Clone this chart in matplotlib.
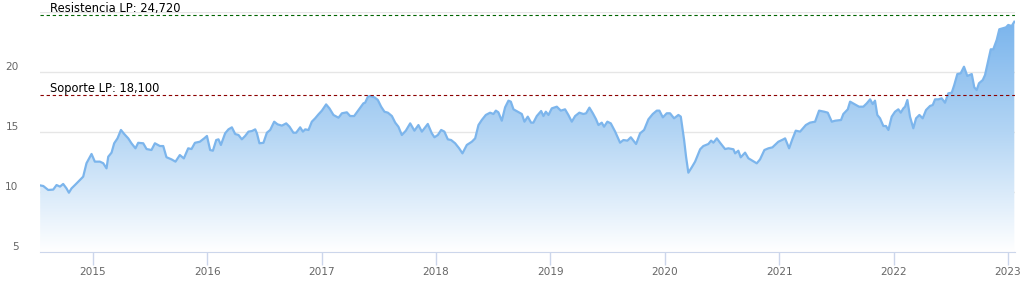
import matplotlib
matplotlib.use("Agg")
import matplotlib.pyplot as plt
import numpy as np
from matplotlib.colors import LinearSegmentedColormap
from matplotlib.patches import Polygon
from matplotlib.transforms import ScaledTranslation

# fechas (año decimal) y cotizacion
fechas = [
    2014.539, 2014.566, 2014.609, 2014.653, 2014.682, 2014.712, 2014.740, 2014.769, 2014.790, 2014.813,
    2014.843, 2014.886, 2014.915, 2014.944, 2014.988, 2015.017, 2015.061, 2015.090, 2015.119, 2015.134,
    2015.163, 2015.186, 2015.215, 2015.245, 2015.274, 2015.309, 2015.337, 2015.372, 2015.396, 2015.440,
    2015.469, 2015.512, 2015.542, 2015.586, 2015.615, 2015.643, 2015.687, 2015.722, 2015.760, 2015.795,
    2015.833, 2015.862, 2015.892, 2015.935, 2015.973, 2015.997, 2016.025, 2016.049, 2016.078, 2016.098,
    2016.119, 2016.156, 2016.185, 2016.215, 2016.244, 2016.273, 2016.302, 2016.331, 2016.360, 2016.390,
    2016.419, 2016.434, 2016.456, 2016.491, 2016.521, 2016.550, 2016.585, 2016.614, 2016.652, 2016.690,
    2016.719, 2016.753, 2016.777, 2016.812, 2016.836, 2016.856, 2016.885, 2016.914, 2016.943, 2016.972,
    2017.002, 2017.039, 2017.068, 2017.103, 2017.147, 2017.177, 2017.220, 2017.249, 2017.284, 2017.322,
    2017.365, 2017.380, 2017.404, 2017.424, 2017.462, 2017.491, 2017.520, 2017.549, 2017.579, 2017.614,
    2017.643, 2017.671, 2017.701, 2017.736, 2017.774, 2017.811, 2017.846, 2017.876, 2017.928, 2017.963,
    2017.986, 2018.016, 2018.045, 2018.073, 2018.103, 2018.132, 2018.167, 2018.202, 2018.231, 2018.269,
    2018.313, 2018.342, 2018.371, 2018.400, 2018.435, 2018.473, 2018.502, 2018.523, 2018.545, 2018.575,
    2018.604, 2018.633, 2018.654, 2018.677, 2018.715, 2018.750, 2018.773, 2018.802, 2018.831, 2018.851,
    2018.881, 2018.919, 2018.939, 2018.960, 2018.983, 2019.012, 2019.056, 2019.091, 2019.128, 2019.157,
    2019.187, 2019.216, 2019.253, 2019.288, 2019.312, 2019.341, 2019.371, 2019.399, 2019.420, 2019.449,
    2019.469, 2019.498, 2019.528, 2019.566, 2019.609, 2019.638, 2019.673, 2019.703, 2019.749, 2019.784,
    2019.819, 2019.857, 2019.895, 2019.930, 2019.953, 2019.983, 2020.017, 2020.046, 2020.081, 2020.119,
    2020.140, 2020.169, 2020.186, 2020.206, 2020.236, 2020.265, 2020.309, 2020.337, 2020.381, 2020.405,
    2020.425, 2020.455, 2020.483, 2020.527, 2020.556, 2020.600, 2020.615, 2020.643, 2020.664, 2020.702,
    2020.731, 2020.766, 2020.804, 2020.833, 2020.871, 2020.906, 2020.941, 2020.993, 2021.037, 2021.052,
    2021.087, 2021.115, 2021.145, 2021.183, 2021.233, 2021.270, 2021.314, 2021.349, 2021.395, 2021.425,
    2021.460, 2021.489, 2021.541, 2021.561, 2021.600, 2021.620, 2021.657, 2021.698, 2021.736, 2021.766,
    2021.795, 2021.818, 2021.838, 2021.858, 2021.882, 2021.911, 2021.934, 2021.955, 2021.984, 2022.013,
    2022.042, 2022.063, 2022.086, 2022.101, 2022.121, 2022.144, 2022.173, 2022.197, 2022.226, 2022.255,
    2022.284, 2022.319, 2022.343, 2022.363, 2022.392, 2022.421, 2022.450, 2022.479, 2022.509, 2022.531,
    2022.558, 2022.587, 2022.616, 2022.645, 2022.684, 2022.706, 2022.727, 2022.747, 2022.780, 2022.800,
    2022.829, 2022.850, 2022.872, 2022.902, 2022.925, 2022.955, 2022.983, 2023.003, 2023.033, 2023.056,
]
precios = [
    10.55, 10.50, 10.17, 10.20, 10.58, 10.45, 10.67, 10.30, 9.94, 10.30,
    10.58, 11.00, 11.28, 12.40, 13.17, 12.53, 12.53, 12.40, 11.97, 12.94,
    13.28, 14.06, 14.47, 15.17, 14.83, 14.47, 14.06, 13.64, 14.10, 14.06,
    13.58, 13.50, 14.06, 13.83, 13.83, 12.90, 12.72, 12.53, 13.08, 12.80,
    13.64, 13.58, 14.10, 14.19, 14.47, 14.67, 13.50, 13.44, 14.33, 14.39,
    13.92, 14.89, 15.22, 15.39, 14.83, 14.75, 14.39, 14.67, 15.03, 15.08,
    15.22, 14.89, 14.06, 14.10, 14.94, 15.17, 15.86, 15.64, 15.53, 15.72,
    15.44, 14.94, 14.94, 15.39, 15.03, 15.22, 15.17, 15.86, 16.14, 16.47,
    16.78, 17.30, 16.97, 16.42, 16.19, 16.56, 16.64, 16.33, 16.33, 16.83,
    17.39, 17.44, 17.94, 18.00, 17.89, 17.67, 17.11, 16.69, 16.61, 16.33,
    15.78, 15.44, 14.75, 15.11, 15.72, 15.11, 15.58, 15.03, 15.67, 14.89,
    14.56, 14.75, 15.17, 15.03, 14.39, 14.33, 14.06, 13.64, 13.22, 13.92,
    14.19, 14.47, 15.58, 16.00, 16.42, 16.61, 16.50, 16.78, 16.64, 15.94,
    17.06, 17.61, 17.53, 16.89, 16.69, 16.50, 15.86, 16.28, 15.78, 15.78,
    16.33, 16.75, 16.33, 16.69, 16.42, 16.97, 17.11, 16.78, 16.89, 16.42,
    15.86, 16.33, 16.61, 16.50, 16.56, 17.03, 16.56, 16.06, 15.58, 15.78,
    15.44, 15.86, 15.72, 15.03, 14.11, 14.33, 14.28, 14.56, 14.00, 14.89,
    15.17, 16.06, 16.50, 16.78, 16.78, 16.22, 16.56, 16.56, 16.14, 16.42,
    16.28, 14.33, 12.94, 11.61, 12.06, 12.53, 13.56, 13.83, 14.00, 14.28,
    14.11, 14.47, 14.11, 13.58, 13.64, 13.56, 13.22, 13.44, 12.89, 13.28,
    12.81, 12.61, 12.39, 12.72, 13.50, 13.64, 13.72, 14.19, 14.39, 14.47,
    13.64, 14.39, 15.11, 15.03, 15.58, 15.78, 15.86, 16.78, 16.69, 16.61,
    15.86, 15.94, 16.00, 16.50, 16.89, 17.53, 17.33, 17.11, 17.11, 17.39,
    17.72, 17.33, 17.61, 16.42, 16.14, 15.50, 15.50, 15.17, 16.28, 16.69,
    16.89, 16.61, 16.97, 17.11, 17.67, 16.28, 15.31, 16.14, 16.42, 16.14,
    16.83, 17.17, 17.25, 17.72, 17.72, 17.81, 17.44, 18.22, 18.28, 18.92,
    19.83, 19.89, 20.44, 19.67, 19.83, 18.72, 18.50, 19.06, 19.33, 19.75,
    21.00, 21.89, 21.89, 22.67, 23.56, 23.64, 23.72, 23.92, 23.83, 24.19,
]

resistencia = 24.72
soporte = 18.10
anios = list(range(2015, 2024))
y_ticks = [5, 10, 15, 20, 25]
y_labels = ["5", "10", "15", "20", ""]

W, H = 1021, 294
fig = plt.figure(figsize=(W / 100, H / 100), dpi=100)
ax = fig.add_axes([39.5 / W, 1 - 252 / H, (1015 - 39.5) / W, 240 / H])

x0, x1 = 2014.533, 2023.062
ax.set_xlim(x0, x1)
ax.set_ylim(5, 25)

# relleno degradado bajo la curva
cmap = LinearSegmentedColormap.from_list("azul", ["#ffffff", "#b3d5f4", "#76b2ec"])
grad = np.linspace(0, 1, 256).reshape(-1, 1)
im = ax.imshow(grad, extent=[x0, x1, 5, 25], origin="lower", aspect="auto",
               cmap=cmap, zorder=1)
verts = [(fechas[0], 5)] + list(zip(fechas, precios)) + [(fechas[-1], 5)]
poly = Polygon(verts, closed=True, facecolor="none", edgecolor="none")
ax.add_patch(poly)
im.set_clip_path(poly)

ax.plot(fechas, precios, color="#7cb5ec", lw=1.6, zorder=3, solid_joinstyle="round")

# grid y ejes estilo highcharts
ax.set_yticks(y_ticks)
ax.set_yticklabels(y_labels)
ax.grid(axis="y", color="#e6e6e6", lw=1, zorder=0)
ax.set_axisbelow(True)
ax.set_xticks(anios)
ax.set_xticklabels([str(a) for a in anios])
for s in ["top", "right", "left"]:
    ax.spines[s].set_visible(False)
ax.spines["bottom"].set_color("#ccd6eb")
ax.spines["bottom"].set_zorder(4)
ax.tick_params(axis="x", direction="out", length=9, width=1, color="#ccd6eb",
               labelcolor="#666666", labelsize=7.6, pad=1.5)
ax.tick_params(axis="y", length=0, labelcolor="#666666", labelsize=7.6, pad=15)
off = ScaledTranslation(0, 0.055, fig.dpi_scale_trans)
for lab in ax.get_yticklabels():
    lab.set_transform(lab.get_transform() + off)

# soporte y resistencia
ax.axhline(resistencia, color="#006400", lw=0.8, ls=(0, (3, 2.5)), zorder=5)
ax.axhline(soporte, color="#8b0000", lw=0.8, ls=(0, (3, 2.5)), zorder=5)
ax.annotate("Resistencia LP: 24,720", xy=(2014.627, resistencia), xytext=(0, 2.3),
            textcoords="offset points", va="baseline", fontsize=8.3, color="#000000",
            annotation_clip=False)
ax.annotate("Soporte LP: 18,100", xy=(2014.627, soporte), xytext=(0, 2.3),
            textcoords="offset points", va="baseline", fontsize=8.3, color="#000000")

fig.savefig("out.png", dpi=100)
